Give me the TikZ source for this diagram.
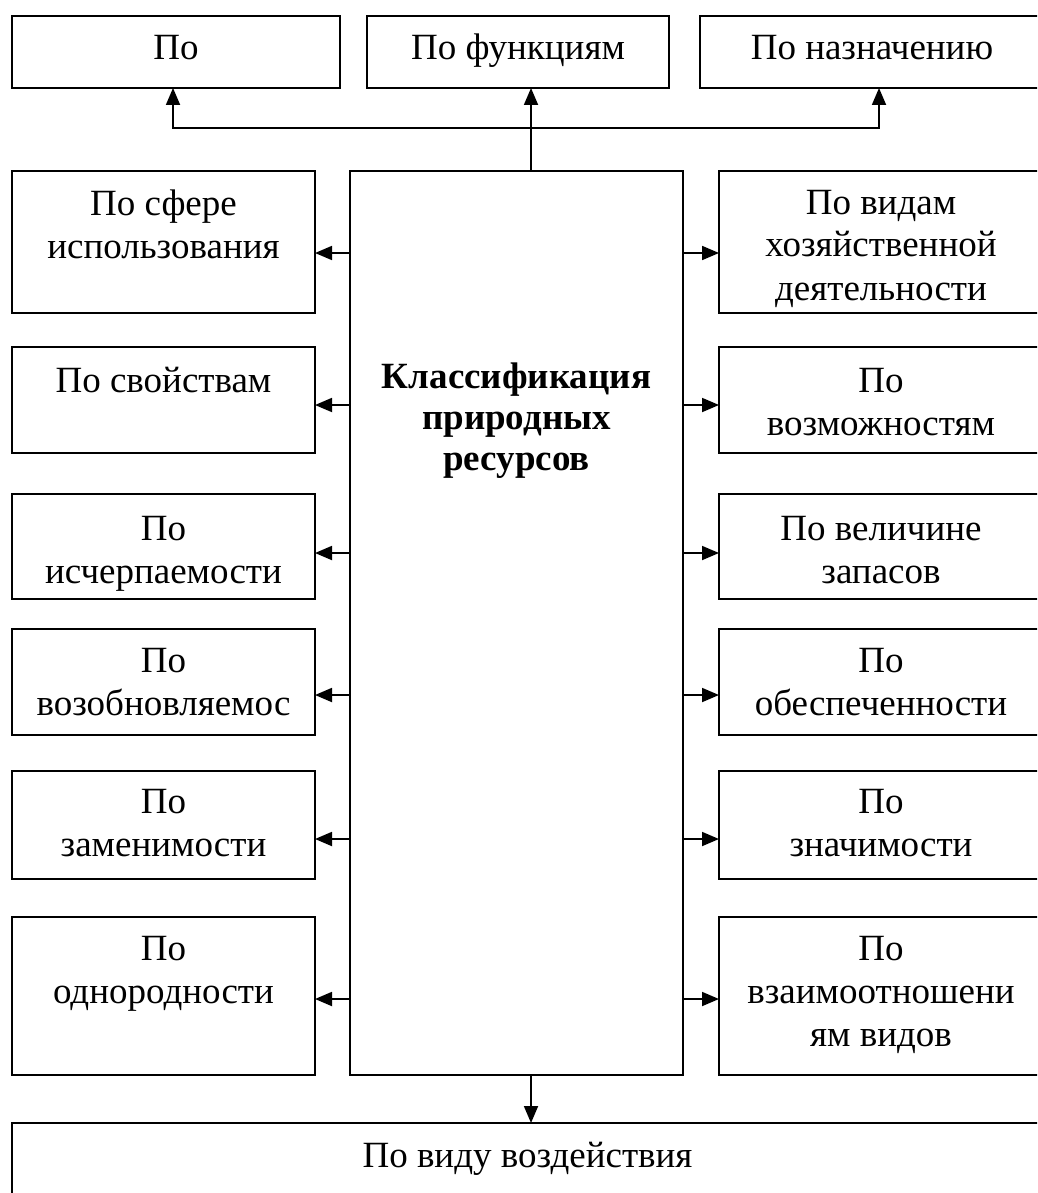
\documentclass[tikz,border=0pt]{standalone}
\usepackage{fontspec}
\setmainfont{Liberation Serif}
\usetikzlibrary{arrows.meta}
\newcommand\cbx[4]{\parbox[t][#2][t]{#1}{\centering\rule{0pt}{#3}#4}}
\begin{document}
\begin{tikzpicture}[x=1pt,y=-1pt,
  box/.style={draw, line width=1.8pt, inner sep=0pt, outer sep=0pt, anchor=north west, font=\fontsize{37}{43}\selectfont},
  arr/.style={line width=1.8pt, -{Triangle[length=17pt,width=14pt]}},
  ln/.style={line width=1.8pt}]
\useasboundingbox (0,0) rectangle (1037,1193);
\fill[white] (0,0) rectangle (1037,1193);
\clip (0,0) rectangle (1037,1193);
% top row
\node[box] (t1) at (12,16) {\cbx{328pt}{72pt}{44pt}{По}};
\node[box] (t2) at (367,16) {\cbx{302pt}{72pt}{44pt}{По функциям}};
\node[box] (t3) at (700,16) {\cbx{344pt}{72pt}{44pt}{По назначению}};
% centre
\node[box] (c) at (350,171) {\cbx{333pt}{904pt}{217pt}{\fontsize{37}{41}\selectfont\bfseries Классификация\\природных\\ресурсов}};
% left column
\node[box] (l1) at (12,171) {\cbx{303pt}{142pt}{44pt}{По сфере\\использования}};
\node[box] (l2) at (12,347) {\cbx{303pt}{106pt}{45pt}{По свойствам}};
\node[box] (l3) at (12,494) {\cbx{303pt}{105pt}{46pt}{По\\исчерпаемости}};
\node[box] (l4) at (12,629) {\cbx{303pt}{106pt}{43pt}{По\\возобновляемос}};
\node[box] (l5) at (12,771) {\cbx{303pt}{108pt}{42pt}{По\\заменимости}};
\node[box] (l6) at (12,917) {\cbx{303pt}{158pt}{43pt}{По\\однородности}};
% right column
\node[box] (r1) at (719,171) {\cbx{324pt}{142pt}{43pt}{По видам\\хозяйственной\\деятельности}};
\node[box] (r2) at (719,347) {\cbx{324pt}{106pt}{45pt}{По\\возможностям}};
\node[box] (r3) at (719,494) {\cbx{324pt}{105pt}{46pt}{По величине\\запасов}};
\node[box] (r4) at (719,629) {\cbx{324pt}{106pt}{43pt}{По\\обеспеченности}};
\node[box] (r5) at (719,771) {\cbx{324pt}{108pt}{42pt}{По\\значимости}};
\node[box] (r6) at (719,917) {\cbx{324pt}{158pt}{43pt}{По\\взаимоотношени\\ям видов}};
% bottom
\node[box] (b) at (12,1123) {\cbx{1031pt}{100pt}{44pt}{По виду воздействия}};
% connector coordinates
\coordinate (tj) at (531,128);
\coordinate (ta) at (173,128);
\coordinate (tb) at (879,128);
\coordinate (y1) at (0,253);
\coordinate (y2) at (0,405);
\coordinate (y3) at (0,553);
\coordinate (y4) at (0,695);
\coordinate (y5) at (0,839);
\coordinate (y6) at (0,999);
% top connectors
\draw[arr] (c.north -| tj) -- (t2.south -| tj);
\draw[arr] (tj) -- (ta) -- (t1.south -| ta);
\draw[arr] (tj) -- (tb) -- (t3.south -| tb);
% side connectors
\foreach \i in {1,...,6}{
  \draw[arr] (c.west |- y\i) -- (l\i.east |- y\i);
  \draw[arr] (c.east |- y\i) -- (r\i.west |- y\i);
}
% bottom connector
\draw[arr] (c.south -| tj) -- (b.north -| tj);
\end{tikzpicture}
\end{document}
